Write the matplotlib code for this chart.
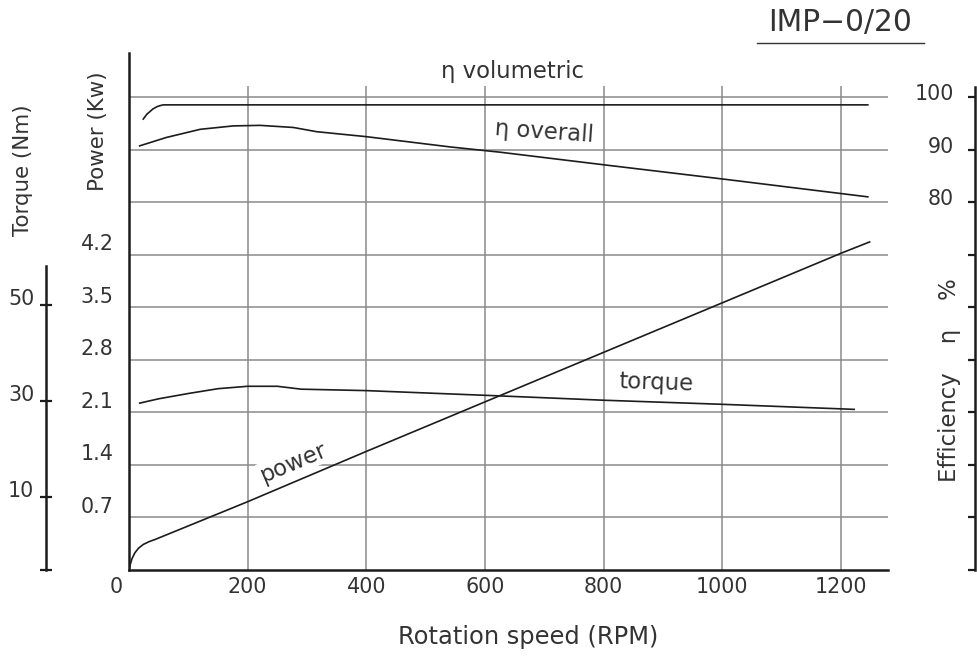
import matplotlib
matplotlib.use('Agg')
import matplotlib.pyplot as plt
from matplotlib import font_manager
from matplotlib.lines import Line2D
from matplotlib.transforms import ScaledTranslation

# ---------------- data ----------------
rpm_ticks = [0, 200, 400, 600, 800, 1000, 1200]
rpm_labels = ['0', '200', '400', '600', '800', '1000', '1200']

power_ticks = [0.7, 1.4, 2.1, 2.8, 3.5, 4.2, 4.9, 5.6, 6.3]
power_labels = ['0.7', '1.4', '2.1', '2.8', '3.5', '4.2', '', '', '']

torque_ticks = [10, 30, 50]
torque_labels = ['10', '30', '50']

eff_ticks = [10, 20, 30, 40, 50, 60, 70, 80, 90, 100]
eff_labels = ['', '', '', '', '', '', '', '80', '90', '100']

power_rpm = [0, 2, 5, 10, 16, 24, 33, 45, 200, 400, 600, 800, 1000, 1200, 1248]
power_kw = [0, 0.07, 0.15, 0.23, 0.29, 0.34, 0.375, 0.41, 0.91, 1.58, 2.24, 2.90, 3.56, 4.22, 4.37]

torque_rpm = [18, 50, 100, 150, 200, 250, 290, 400, 625, 800, 1000, 1222]
torque_nm = [29.5, 30.4, 31.5, 32.5, 33.0, 33.0, 32.4, 32.1, 31.0, 30.1, 29.25, 28.2]

overall_rpm = [18, 63, 120, 176, 221, 277, 316, 400, 541, 625, 800, 1000, 1245]
overall_eff = [90.7, 92.3, 93.85, 94.5, 94.6, 94.2, 93.4, 92.45, 90.5, 89.5, 87.1, 84.4, 81.0]

vol_rpm = [24, 30, 35, 40, 47, 52, 58, 65, 80, 1245]
vol_eff = [95.8, 96.7, 97.2, 97.7, 98.15, 98.35, 98.5, 98.5, 98.5, 98.5]

# ---------------- style ----------------
names = {f.name for f in font_manager.fontManager.ttflist}
if 'Liberation Sans Narrow' in names:
    FAM = ['Liberation Sans Narrow', 'DejaVu Sans']
    S = 1.0
else:
    FAM = ['DejaVu Sans']
    S = 0.78
plt.rcParams['font.family'] = FAM

TXT = '#333333'
LINE = '#1c1c1c'
GRID = '#8a8a8a'
FS_TICK = 19 * S
FS_LAB = 21 * S

W, H = 978, 657
fig = plt.figure(figsize=(W / 100, H / 100), dpi=100)
L, R_, T, B_ = 129, 888, 53, 570
ax = fig.add_axes([L / W, 1 - B_ / H, (R_ - L) / W, (B_ - T) / H])

ax.set_xlim(0, 1279)
ax.set_ylim(0, 6.887)
for s in ['top', 'right']:
    ax.spines[s].set_visible(False)
for s in ['left', 'bottom']:
    ax.spines[s].set_linewidth(1.8)
    ax.spines[s].set_color(LINE)

ax.set_xticks(rpm_ticks, rpm_labels)
ax.set_yticks(power_ticks, power_labels)
ax.tick_params(axis='x', length=0, pad=5, labelsize=FS_TICK, labelcolor=TXT)
ax.tick_params(axis='y', length=0, pad=11, labelsize=FS_TICK, labelcolor=TXT)
ax.yaxis.grid(True, color=GRID, lw=1.1)
ax.vlines(rpm_ticks[1:], 0, 6.45, color=GRID, lw=1.1, zorder=1.5)

ax.plot(power_rpm, power_kw, color=LINE, lw=1.2, zorder=2.5)

ax.set_xlabel('Rotation speed (RPM)', fontsize=FS_LAB + 1, color=TXT)
ax.xaxis.label.set_va('center')
ax.xaxis.set_label_coords((528 - L) / (R_ - L), (B_ - 637) / (B_ - T))
ax.set_ylabel('Power (Kw)', fontsize=FS_LAB - 1, color=TXT)
ax.yaxis.label.set_va('center')
ax.yaxis.set_label_coords((98 - L) / (R_ - L), (B_ - 131) / (B_ - T))

# ---------------- torque axis ----------------
axt = ax.twinx()
axt.set_ylim(-5.2, 102.3)
for s in ['top', 'right', 'bottom']:
    axt.spines[s].set_visible(False)
axt.yaxis.set_ticks_position('left')
axt.yaxis.set_label_position('left')
axt.spines['left'].set_position(('axes', (46 - L) / (R_ - L)))
axt.spines['left'].set_bounds(-5.2, 58.0)
axt.spines['left'].set_linewidth(1.8)
axt.spines['left'].set_color(LINE)
axt.set_yticks([-5.2] + torque_ticks, [''] + torque_labels)
axt.tick_params(axis='y', direction='inout', length=9, width=1.6, color=LINE,
                pad=4, labelsize=FS_TICK, labelcolor=TXT)
axt.plot(torque_rpm, torque_nm, color=LINE, lw=1.2)
axt.set_ylabel('Torque (Nm)', fontsize=FS_LAB - 1, color=TXT)
axt.yaxis.label.set_va('center')
axt.yaxis.set_label_coords((23 - L) / (R_ - L), (B_ - 170) / (B_ - T))

# ---------------- efficiency axis ----------------
axe = ax.twinx()
axe.set_ylim(10, 108.37)
for s in ['top', 'right', 'bottom']:
    axe.spines[s].set_visible(False)
axe.yaxis.set_ticks_position('left')
axe.yaxis.set_label_position('left')
axe.spines['left'].set_position(('axes', (975 - L) / (R_ - L)))
axe.spines['left'].set_bounds(10, 101.9)
axe.spines['left'].set_linewidth(1.8)
axe.spines['left'].set_color(LINE)
axe.set_yticks(eff_ticks, eff_labels)
axe.tick_params(axis='y', direction='out', length=5, width=1.6, color=LINE,
                pad=10, labelsize=FS_TICK, labelcolor=TXT)
axe.plot(overall_rpm, overall_eff, color=LINE, lw=1.2)
axe.plot(vol_rpm, vol_eff, color=LINE, lw=1.2)
axe.set_ylabel('Efficiency    η    %', fontsize=FS_LAB, color=TXT)
axe.yaxis.label.set_va('center')
axe.yaxis.set_label_coords((950 - L) / (R_ - L), (B_ - 380) / (B_ - T))

# ---------------- curve labels ----------------
ax.text(646, 6.64, 'η volumetric', fontsize=FS_LAB, color=TXT, ha='center', va='center')
ax.text(700, 5.84, 'η overall', fontsize=FS_LAB, color=TXT, ha='center', va='center',
        rotation=-4)
ax.text(888, 2.50, 'torque', fontsize=FS_LAB, color=TXT, ha='center', va='center', rotation=-2)
ax.text(277, 1.43, 'power', fontsize=FS_LAB, color=TXT, ha='center', va='center', rotation=23,
        bbox=dict(boxstyle='square,pad=0.05', fc='white', ec='none'), zorder=3)

# ---------------- title ----------------
fig.text(840 / W, 1 - 23 / H, 'IMP−0/20', fontsize=FS_LAB + 5, color=TXT, ha='center', va='center')
fig.add_artist(Line2D([757 / W, 924 / W], [1 - 42.7 / H, 1 - 42.7 / H], color=TXT, lw=1.0,
                      transform=fig.transFigure))

# ---------------- label offsets ----------------
for lab in ax.get_yticklabels():
    lab.set_transform(lab.get_transform() + ScaledTranslation(0, 12.5 / 100, fig.dpi_scale_trans))
xl = ax.get_xticklabels()
xl[0].set_transform(xl[0].get_transform() + ScaledTranslation(-13 / 100, 0, fig.dpi_scale_trans))
for lab in axt.get_yticklabels():
    lab.set_transform(lab.get_transform() + ScaledTranslation(0, 8 / 100, fig.dpi_scale_trans))
for lab in axe.get_yticklabels():
    lab.set_transform(lab.get_transform() + ScaledTranslation(0, 5 / 100, fig.dpi_scale_trans))

fig.savefig('out.png', dpi=100, facecolor='white')
